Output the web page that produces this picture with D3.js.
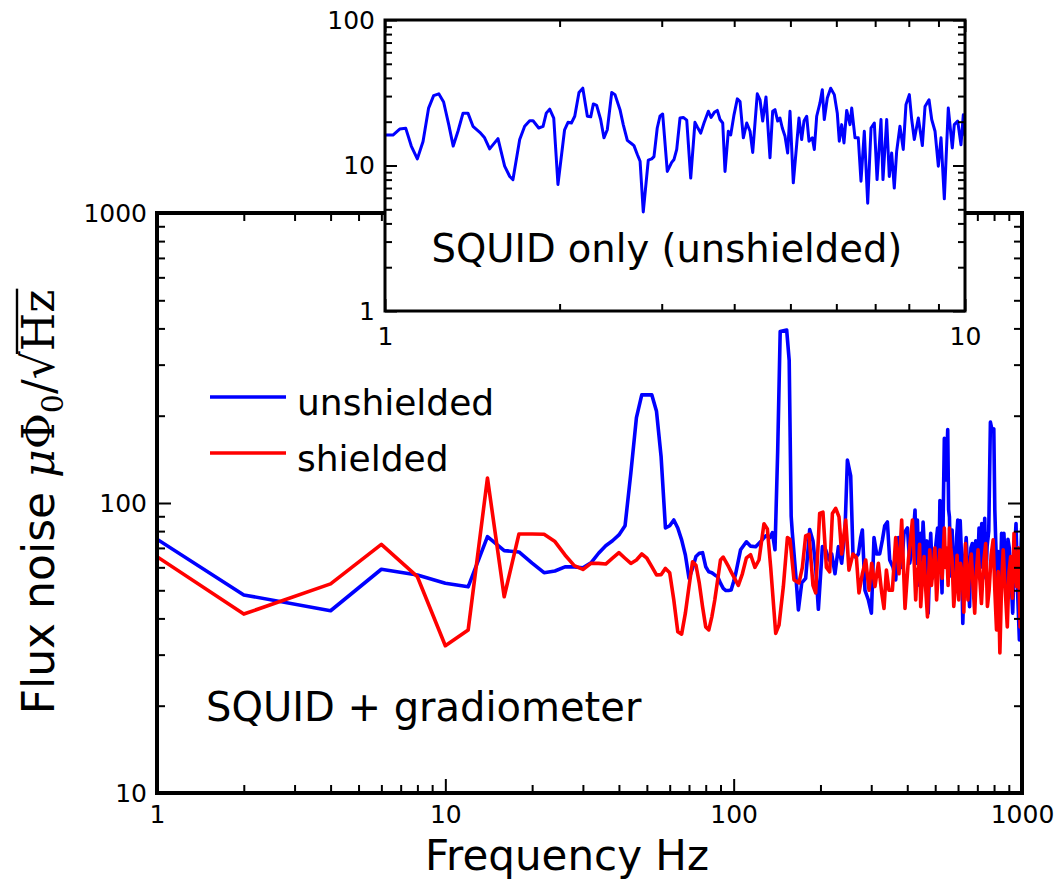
<!DOCTYPE html>
<html>
<head>
<meta charset="utf-8">
<script src="https://cdn.jsdelivr.net/npm/d3@7"></script>
<style>
  body { margin: 0; background: #fff; }
  svg { display: block; }
</style>
</head>
<body>
<svg id="chart" width="1063" height="885"></svg>
<script>
// ---- Noise spectra (flux noise in µΦ0/√Hz vs frequency in Hz) ----

// Low-frequency bins shared by both gradiometer spectra
const lowHz = [1, 2, 4, 6, 8, 10, 12, 14, 16, 18, 20, 22, 24, 26, 28, 30, 32, 34, 36, 38,
  40, 42, 44, 46, 48, 50, 52, 54, 56, 58, 60, 62, 64, 66, 68, 70, 72, 74, 76, 78,
  80, 82, 84, 86, 88, 90, 92, 94, 96, 98, 100];
const unshieldedLow = [75, 48.2, 42.5, 59.1, 56.5, 52.9, 51.4, 76.6, 68.5, 67.8, 62, 57.5, 58.3, 60.2, 60.2, 59.8, 62.2, 67.1, 71.2, 74.1,
  77.6, 83.4, 127, 197, 236, 236, 236, 207, 145, 82, 83.5, 87.4, 82, 74.6, 66.2, 55, 59.5, 65.4, 67.1, 67.4,
  60.3, 57.9, 57.5, 56.5, 55.7, 52.9, 50.8, 49.9, 49.9, 50.1, 53.6];
const shieldedLow = [65.3, 41.4, 52.6, 72, 55.7, 32.2, 36.5, 122, 47.5, 78.2, 78.2, 78, 73.6, 66.2, 60.8, 59, 61.9, 61.9, 61.6, 64.5,
  67.4, 64.5, 61.9, 63.6, 66.7, 64.5, 60.3, 56.5, 56.6, 59.5, 57.5, 46.3, 36, 35.3, 41.7, 51.5, 62.7, 61, 52.9, 43.9,
  37.4, 36.5, 40.5, 46.3, 54.3, 63.6, 65.1, 62.7, 60.3, 57.9, 55.7];

// Above 100 Hz: unshielded gradiometer
const unshieldedHighHz = [101.6, 105.7, 110.7, 114.5, 119.2, 124.1, 129.1, 133.6, 136.2, 139.1, 142.1, 145.0, 152.7, 155.8, 158.3, 159.8,
  164.1, 167.7, 172.2, 177.7, 183.5, 188.4, 192.5, 196.7, 203.1, 208.5, 214.1, 218.8, 224.6, 230.8, 236.9, 243.3, 248.0, 254.6,
  259.3, 265.0, 270.7, 275.8, 279.5, 285.4, 293.3, 300.4, 306.7, 313.3, 320.9, 328.0, 334.1, 341.3, 347.7, 357.0, 364.7, 372.7,
  382.6, 389.7, 400.5, 407.9, 416.9,
  425.6, 429.5, 433.8, 437.3, 441.2, 445.4, 449.6, 453.9, 458.6, 463.5, 468.2, 472.9, 477.6, 482.4, 489.2, 496.1, 502.8, 509.7,
  514.4, 519.2, 523.6, 528.0, 532.8, 537.8, 545.1, 552.6, 556.4, 560.2, 566.2, 572.3, 579.9, 587.5, 593.1, 598.8, 604.6, 610.4,
  616.8, 623.3, 631.8, 640.3, 649.0, 657.9, 665.0, 672.3, 681.6, 691.0, 700.2, 709.5, 717.2, 724.9, 733.7, 742.5, 749.6, 756.8,
  766.8, 777.0, 787.6, 798.4, 804.8, 811.2, 819.0, 826.9, 838.2, 849.6, 857.5, 865.4, 874.8, 884.3, 893.8, 903.5, 916.0, 928.5,
  940.9, 953.3, 966.4, 979.5, 988.5, 997.6];
const unshieldedHigh = [57, 69, 73.5, 71, 70.7, 73.6, 77, 76, 79, 69, 150, 390, 395, 310, 90, 78.6,
  57, 42.8, 53, 55, 81, 74, 60, 43, 70.7, 69, 63.6, 66.7, 57, 70.7, 62, 80.7, 140.6, 124,
  66.7, 65, 66.7, 76, 80.7, 50, 46.3, 41.7, 76, 66.7, 66.7, 74.6, 83.5, 86, 63.6, 60, 54.3, 76,
  60, 78.6, 82, 62, 70.7,
  94.6, 62, 87.4, 65, 52, 78.6, 64, 86, 70, 60, 74, 41.7, 58, 78.6, 55, 60, 72, 82,
  58, 102, 66, 49, 88, 167, 120, 179, 95, 89.5, 56, 80.7, 52, 60, 76, 87.4, 58, 87,
  66, 38.4, 62, 76, 58, 43.9, 70, 72.5, 52, 74, 56, 82, 60, 85, 62, 88.6, 55, 70.7,
  80, 190, 178, 180, 95, 72.5, 55, 68, 48, 78.6, 58, 78.6, 62, 50, 75, 70, 55, 41.7,
  66, 85, 48, 33.7, 62, 82];

// Above 100 Hz: shielded gradiometer
const shieldedHighHz = [103.8, 107.2, 110.7, 114.5, 118.5, 122.4, 127.4, 130.9, 134.4, 139.9, 143.6, 148.7, 153.6, 156.8, 161.9,
  168.5, 173.1, 177.7, 182.5, 188.4, 192.5, 198.7, 204.0, 209.7, 215.3, 220.0, 225.9, 231.9, 236.9, 244.7, 251.1, 259.3, 266.4,
  272.0, 279.5, 287.1, 294.8, 301.1, 309.1, 317.6, 326.2, 332.2, 338.6, 345.7, 355.2, 364.7, 374.5, 382.6, 392.9, 403.6, 416.9,
  427.9, 432.6, 437.3, 441.3, 445.4, 451.4, 457.5, 463.8, 470.1, 474.4, 478.8, 485.4, 492.0, 498.8, 505.6, 512.4, 519.2, 528.5,
  537.8, 543.0, 548.2, 554.2, 560.2, 566.2, 572.3, 579.9, 587.5, 595.5, 603.6, 612.0, 620.3, 628.5, 636.8, 643.1, 649.4, 658.3,
  667.2, 676.3, 685.5, 694.7, 703.9, 713.6, 723.3, 735.8, 748.4, 758.7, 769.0, 781.5, 794.1, 805.0, 815.9, 827.0, 838.1, 849.3,
  860.6, 874.9, 889.2, 901.5, 913.8, 926.0, 938.3, 948.4, 958.5, 971.7, 984.9, 992.4, 1000];
const shieldedHigh = [52, 57, 64.7, 66.3, 60, 63.6, 84.8, 81.3, 60, 35.5, 37.9, 51.5, 76, 75, 54.3,
  53, 60, 77, 78, 52, 49, 92, 93, 60, 57.9, 92, 95.9, 89.5, 66.7, 87.4, 58.7, 66.7, 65,
  49, 57, 63.6, 50, 62, 51.5, 62, 49, 43.3, 58.7, 50, 50, 76, 57, 87.4, 43.3, 63.6, 87.4,
  46.3, 58, 60, 72, 43.9, 55, 65.4, 50, 40.5, 56, 68.9, 52, 60, 70, 46.3, 58, 68.9, 55,
  82, 60, 70, 52, 82, 70, 63.6, 44, 51.5, 66, 46.3, 62, 57, 42, 72.5, 58, 46.3, 60,
  66.7, 52, 41.7, 58, 68.9, 55, 45, 62, 72.5, 44, 50, 66, 74.6, 50, 36.5, 58, 30.4, 52,
  68.9, 50, 37.4, 58, 65.4, 47, 78.6, 60, 51.5, 70, 37.4, 60, 53];

// SQUID alone, unshielded: [frequency Hz, noise]
const insetSpectrum = [
  [1.000, 16.2], [1.032, 16.2], [1.060, 17.8], [1.086, 18.0], [1.110, 13.6], [1.137, 11.1], [1.163, 14.6], [1.189, 24.8],
  [1.213, 30.2], [1.238, 31.1], [1.262, 27.3], [1.288, 19.1], [1.311, 13.6], [1.336, 17.2], [1.363, 22.9], [1.390, 22.9],
  [1.418, 18.6], [1.457, 16.9], [1.485, 15.5], [1.515, 13.0], [1.566, 15.3], [1.608, 9.9], [1.641, 8.4], [1.662, 8.0],
  [1.707, 15.1], [1.741, 18.6], [1.776, 20.3], [1.800, 20.3], [1.841, 18.1], [1.873, 18.6], [1.897, 22.9], [1.923, 24.4],
  [1.954, 21.2], [1.987, 7.4], [2.040, 17.6], [2.068, 19.8], [2.096, 19.6], [2.124, 21.8], [2.160, 31.8], [2.193, 34.0],
  [2.233, 21.8], [2.263, 21.6], [2.287, 26.5], [2.317, 25.9], [2.354, 20.7], [2.385, 15.5], [2.417, 17.6], [2.460, 31.8],
  [2.492, 30.7], [2.542, 24.2], [2.575, 19.1], [2.617, 14.9], [2.663, 14.1], [2.687, 13.7], [2.723, 11.9], [2.753, 10.7],
  [2.788, 4.8], [2.844, 10.9], [2.883, 11.1], [2.909, 11.5], [2.947, 18.1], [2.979, 21.8], [3.011, 22.6], [3.067, 9.1],
  [3.121, 10.5], [3.150, 11.0], [3.184, 12.9], [3.226, 21.2], [3.268, 21.4], [3.313, 20.5], [3.366, 8.2], [3.423, 19.8],
  [3.455, 18.4], [3.502, 16.7], [3.548, 19.6], [3.610, 23.6], [3.649, 21.4], [3.697, 23.2], [3.741, 23.9], [3.781, 20.7],
  [3.822, 19.6], [3.857, 9.1], [3.908, 17.2], [3.945, 16.2], [3.997, 22.3], [4.050, 28.7], [4.094, 27.5], [4.148, 15.5],
  [4.204, 19.6], [4.260, 17.2], [4.305, 12.3], [4.384, 31.1], [4.432, 28.3], [4.479, 20.2], [4.538, 29.6], [4.611, 11.3],
  [4.660, 23.6], [4.703, 24.2], [4.754, 20.2], [4.797, 21.2], [4.842, 18.1], [4.894, 15.9], [4.946, 12.2], [4.992, 23.6],
  [5.058, 7.6], [5.126, 13.9], [5.173, 21.2], [5.229, 15.1], [5.277, 20.2], [5.334, 21.8], [5.383, 14.7], [5.454, 15.5],
  [5.498, 12.9], [5.550, 21.8], [5.623, 26.9], [5.675, 33.2], [5.720, 20.7], [5.789, 29.1], [5.867, 34.0], [5.952, 30.7],
  [6.023, 22.9], [6.071, 14.7], [6.129, 19.1], [6.185, 14.3], [6.252, 23.9], [6.335, 19.1], [6.378, 24.8], [6.462, 15.5],
  [6.546, 15.5], [6.617, 7.8], [6.705, 17.2], [6.796, 5.5], [6.886, 18.1], [6.977, 19.6], [7.053, 8.0], [7.164, 20.7],
  [7.221, 8.0], [7.328, 20.7], [7.404, 8.4], [7.474, 12.2], [7.552, 7.0], [7.624, 12.5], [7.724, 18.6], [7.826, 12.9],
  [7.911, 26.2], [8.017, 30.7], [8.093, 20.7], [8.177, 15.1], [8.309, 21.2], [8.442, 13.7], [8.532, 25.4], [8.669, 28.3],
  [8.762, 20.7], [8.878, 17.2], [8.995, 9.9], [9.092, 15.5], [9.212, 5.9], [9.358, 24.8], [9.508, 13.2], [9.584, 19.1],
  [9.714, 20.2], [9.842, 13.9], [9.933, 22.3], [10.0, 15.9]
];

// Axis labelling
const mainXTicks = [1, 10, 100, 1000];
const mainYTicks = [10, 100, 1000];
const insetXTicks = [1, 10];
const insetYTicks = [1, 10, 100];
const seriesNames = ["unshielded", "shielded"];
const seriesColors = ["#0000ff", "#ff0000"];

// ---- Layout ----
const svg = d3.select("#chart");
const plot = { left: 157, right: 1022, top: 213, bottom: 793 };
const box = { left: 385, right: 965, top: 20, bottom: 311 };
const SANS = "'DejaVu Sans', sans-serif";
const SERIF = "'DejaVu Serif', serif";

svg.append("rect").attr("width", 1063).attr("height", 885).attr("fill", "#fff");

const x = d3.scaleLog().domain([1, 1000]).range([plot.left, plot.right]);
const y = d3.scaleLog().domain([10, 1000]).range([plot.bottom, plot.top]);
const ix = d3.scaleLog().domain([1, 10]).range([box.left, box.right]);
const iy = d3.scaleLog().domain([1, 100]).range([box.bottom, box.top]);

function zip(fs, vs) { return fs.map((f, i) => [f, vs[i]]); }
const unshielded = zip(lowHz, unshieldedLow).concat(zip(unshieldedHighHz, unshieldedHigh));
const shielded = zip(lowHz, shieldedLow).concat(zip(shieldedHighHz, shieldedHigh));

// Inward ticks on all four sides; labels only on left/bottom
function drawAxes(g, xs, ys, r, xMajor, yMajor, opt) {
  const minorX = xs.ticks().filter(v => !xMajor.includes(v));
  const minorY = ys.ticks().filter(v => !yMajor.includes(v));
  const fmt = d3.format("d");
  const mk = (axis, tr, vals, size, lab, pad) => {
    const a = g.append("g").attr("transform", tr)
      .call(axis.tickValues(vals).tickSize(-size).tickPadding(pad).tickFormat(lab ? fmt : () => ""));
    a.select(".domain").remove();
    a.selectAll(".tick line").attr("stroke", "#000").attr("stroke-width", opt.tickW);
    a.selectAll(".tick text").attr("font-family", SANS).attr("font-size", opt.fs).attr("fill", "#000");
    return a;
  };
  mk(d3.axisBottom(xs), `translate(0,${r.bottom})`, xMajor, opt.major, true, opt.padX);
  mk(d3.axisBottom(xs), `translate(0,${r.bottom})`, minorX, opt.minor, false, 0);
  mk(d3.axisTop(xs), `translate(0,${r.top})`, xMajor, opt.major, false, 0);
  mk(d3.axisTop(xs), `translate(0,${r.top})`, minorX, opt.minor, false, 0);
  mk(d3.axisLeft(ys), `translate(${r.left},0)`, yMajor, opt.major, true, opt.padY);
  mk(d3.axisLeft(ys), `translate(${r.left},0)`, minorY, opt.minor, false, 0);
  mk(d3.axisRight(ys), `translate(${r.right},0)`, yMajor, opt.major, false, 0);
  mk(d3.axisRight(ys), `translate(${r.right},0)`, minorY, opt.minor, false, 0);
  g.append("rect").attr("x", r.left).attr("y", r.top)
    .attr("width", r.right - r.left).attr("height", r.bottom - r.top)
    .attr("fill", "none").attr("stroke", "#000").attr("stroke-width", opt.frameW);
}

// ---- Main panel: SQUID + gradiometer ----
const defs = svg.append("defs");
defs.append("clipPath").attr("id", "clipMain").append("rect")
  .attr("x", plot.left).attr("y", plot.top)
  .attr("width", plot.right - plot.left).attr("height", plot.bottom - plot.top);
defs.append("clipPath").attr("id", "clipInset").append("rect")
  .attr("x", box.left).attr("y", box.top)
  .attr("width", box.right - box.left).attr("height", box.bottom - box.top);

const mainLine = d3.line().x(d => x(d[0])).y(d => y(d[1]));
const series = svg.append("g").attr("clip-path", "url(#clipMain)");
[unshielded, shielded].forEach((data, i) => {
  series.append("path").datum(data).attr("d", mainLine)
    .attr("fill", "none").attr("stroke", seriesColors[i])
    .attr("stroke-width", 3.6).attr("stroke-linejoin", "round");
});

drawAxes(svg.append("g"), x, y, plot, mainXTicks, mainYTicks,
  { major: 14, minor: 8, tickW: 2, frameW: 4, fs: 25, padX: 12, padY: 10 });

// Legend
const legend = svg.append("g");
seriesNames.forEach((name, i) => {
  const ly = 397 + i * 56;
  legend.append("line").attr("x1", 210).attr("x2", 286).attr("y1", ly).attr("y2", ly)
    .attr("stroke", seriesColors[i]).attr("stroke-width", 3.6);
  legend.append("text").attr("x", 297).attr("y", ly + 18)
    .attr("font-family", SANS).attr("font-size", 36).text(name);
});

svg.append("text").attr("x", 206).attr("y", 721)
  .attr("font-family", SANS).attr("font-size", 40).text("SQUID + gradiometer");

// Axis titles
svg.append("text").attr("x", 567).attr("y", 870).attr("text-anchor", "middle")
  .attr("font-family", SANS).attr("font-size", 42).text("Frequency Hz");

const yTitle = svg.append("g").attr("transform", "translate(54,502) rotate(-90)");
const yt = yTitle.append("text").attr("font-family", SANS).attr("font-size", 44);
yt.append("tspan").text("Flux noise ");
yt.append("tspan").attr("font-family", SERIF).attr("font-style", "italic").text("μ");
yt.append("tspan").attr("font-family", SERIF).text("Φ");
yt.append("tspan").attr("font-family", SERIF).attr("font-size", 30).attr("dy", 9).text("0");
yt.append("tspan").attr("font-family", SERIF).attr("dy", -9).text("/");
yt.append("tspan").attr("font-family", SERIF).text("√");
yt.append("tspan").attr("font-family", SERIF).text("Hz");
{
  const node = yt.node();
  const w = node.getComputedTextLength();
  yt.attr("x", -w / 2);
  const n = node.getNumberOfChars();
  const root = node.getExtentOfChar(n - 3);
  const last = node.getExtentOfChar(n - 1);
  yTitle.append("line")
    .attr("x1", root.x + root.width * 0.9).attr("x2", last.x + last.width + 1)
    .attr("y1", -37).attr("y2", -37)
    .attr("stroke", "#000").attr("stroke-width", 2.4);
}

// ---- Inset: SQUID only ----
const insetG = svg.append("g");
insetG.append("rect").attr("x", box.left).attr("y", box.top)
  .attr("width", box.right - box.left).attr("height", box.bottom - box.top).attr("fill", "#fff");
const insetLine = d3.line().x(d => ix(d[0])).y(d => iy(d[1]));
insetG.append("g").attr("clip-path", "url(#clipInset)").append("path")
  .datum(insetSpectrum).attr("d", insetLine)
  .attr("fill", "none").attr("stroke", seriesColors[0])
  .attr("stroke-width", 3).attr("stroke-linejoin", "round");
drawAxes(insetG, ix, iy, box, insetXTicks, insetYTicks,
  { major: 12, minor: 7, tickW: 2, frameW: 3, fs: 25, padX: 16, padY: 10 });
insetG.append("text").attr("x", 667).attr("y", 262).attr("text-anchor", "middle")
  .attr("font-family", SANS).attr("font-size", 38.5).text("SQUID only (unshielded)");
</script>
</body>
</html>
